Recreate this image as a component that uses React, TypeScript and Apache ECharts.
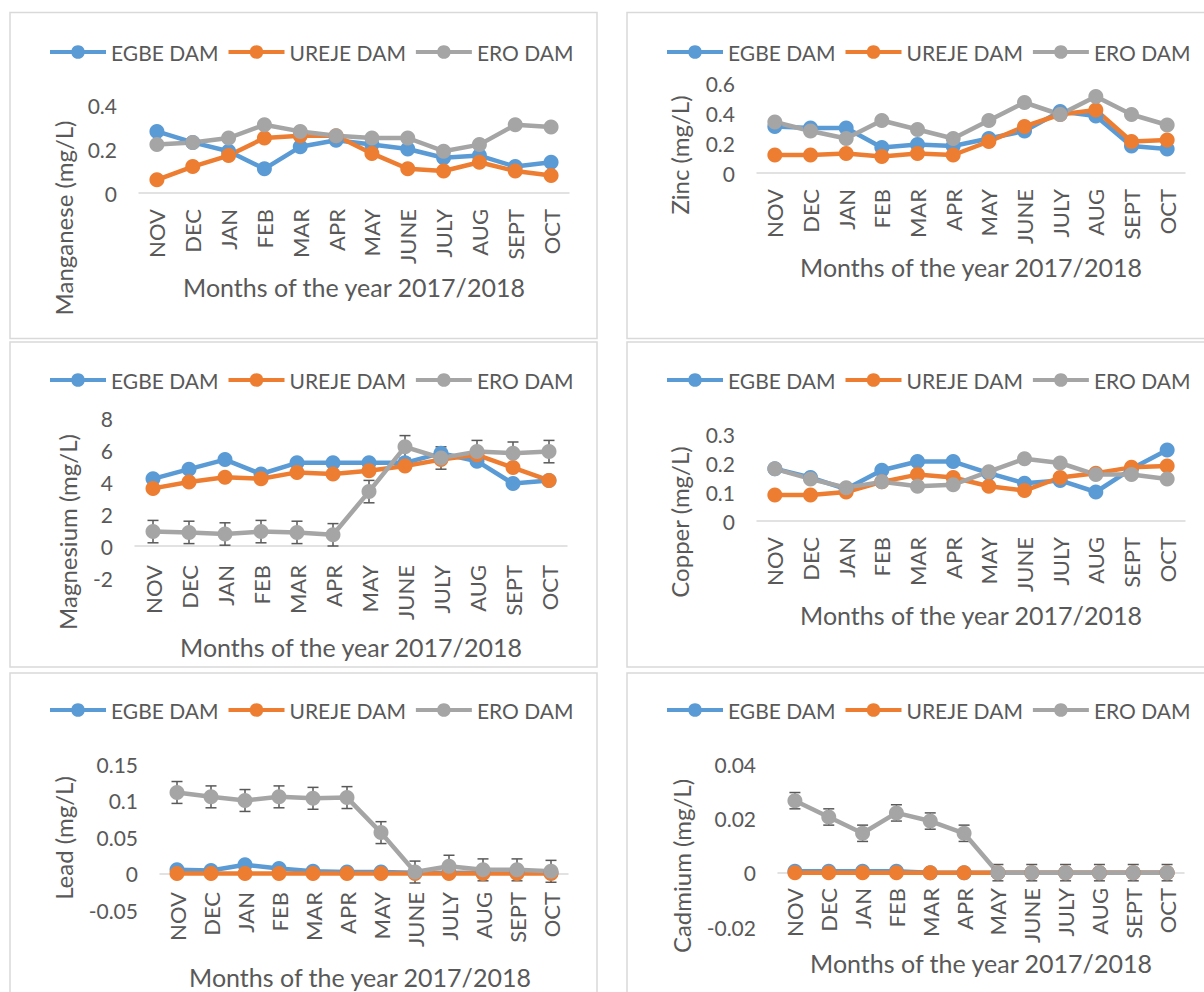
import React, { useEffect, useRef } from "react";
import * as echarts from "echarts";

const months = ["NOV", "DEC", "JAN", "FEB", "MAR", "APR", "MAY", "JUNE", "JULY", "AUG", "SEPT", "OCT"];
const damNames = ["EGBE DAM", "UREJE DAM", "ERO DAM"];
const damColors = ["#5B9BD5", "#ED7D31", "#A5A5A5"];
const xTitle = "Months of the year 2017/2018";

// Manganese (mg/L)
const mnEgbe = [0.28, 0.23, 0.19, 0.11, 0.21, 0.24, 0.22, 0.2, 0.16, 0.17, 0.12, 0.14];
const mnUreje = [0.06, 0.12, 0.17, 0.25, 0.26, 0.26, 0.18, 0.11, 0.1, 0.14, 0.1, 0.08];
const mnEro = [0.22, 0.23, 0.25, 0.31, 0.28, 0.26, 0.25, 0.25, 0.19, 0.22, 0.31, 0.3];

// Zinc (mg/L)
const znEgbe = [0.31, 0.3, 0.3, 0.17, 0.19, 0.18, 0.23, 0.28, 0.41, 0.38, 0.18, 0.16];
const znUreje = [0.12, 0.12, 0.13, 0.11, 0.13, 0.12, 0.21, 0.31, 0.39, 0.42, 0.21, 0.22];
const znEro = [0.34, 0.28, 0.23, 0.35, 0.29, 0.23, 0.35, 0.47, 0.39, 0.51, 0.39, 0.32];

// Magnesium (mg/L)
const mgEgbe = [4.2, 4.8, 5.4, 4.5, 5.2, 5.2, 5.2, 5.2, 5.8, 5.3, 3.9, 4.1];
const mgUreje = [3.6, 4.0, 4.3, 4.2, 4.6, 4.5, 4.7, 5.0, 5.4, 5.7, 4.9, 4.1];
const mgEro = [0.9, 0.85, 0.75, 0.9, 0.85, 0.7, 3.4, 6.2, 5.5, 5.9, 5.8, 5.9];
const mgEroErr = 0.7;

// Copper (mg/L)
const cuEgbe = [0.18, 0.15, 0.11, 0.175, 0.205, 0.205, 0.165, 0.13, 0.14, 0.1, 0.18, 0.245];
const cuUreje = [0.09, 0.09, 0.1, 0.135, 0.16, 0.15, 0.12, 0.105, 0.15, 0.165, 0.185, 0.19];
const cuEro = [0.18, 0.145, 0.115, 0.135, 0.12, 0.125, 0.17, 0.215, 0.2, 0.16, 0.16, 0.145];

// Lead (mg/L)
const pbEgbe = [0.005, 0.004, 0.012, 0.007, 0.003, 0.002, 0.002, 0.001, 0.001, 0.001, 0.001, 0.001];
const pbUreje = [0, 0, 0, 0, 0, 0, 0, 0, 0, 0, 0, 0];
const pbEro = [0.111, 0.105, 0.1, 0.105, 0.103, 0.104, 0.056, 0.002, 0.01, 0.005, 0.005, 0.003];
const pbEroErr = 0.015;

// Cadmium (mg/L)
const cdEgbe = [0.0005, 0.0005, 0.0005, 0.0005, 0, 0, 0, 0, 0, 0, 0, 0];
const cdUreje = [0, 0, 0, 0, 0, 0, 0, 0, 0, 0, 0, 0];
const cdEro = [0.0265, 0.0205, 0.0145, 0.022, 0.019, 0.0145, 0, 0, 0, 0, 0, 0];
const cdEroErr = 0.003;

const FONT = "Lato";
const TXT = "#595959";

type Panel = {
  yName: string;
  data: number[][];
  err: number | null;
  min: number;
  max: number;
  interval: number;
  grid: { left: number; top: number; width: number; height: number };
  labelMargin: number;
  legend: { left: number; y: number };
  yTitle: [number, number];
  xTitle: [number, number];
};

const panels: Panel[] = [
  {
    yName: "Manganese (mg/L)", data: [mnEgbe, mnUreje, mnEro], err: null,
    min: 0, max: 0.4, interval: 0.2,
    grid: { left: 139, top: 105, width: 430, height: 88 }, labelMargin: 16,
    legend: { left: 48, y: 52 }, yTitle: [63, 218], xTitle: [354, 287],
  },
  {
    yName: "Zinc (mg/L)", data: [znEgbe, znUreje, znEro], err: null,
    min: 0, max: 0.6, interval: 0.2,
    grid: { left: 757, top: 83, width: 428, height: 90 }, labelMargin: 16,
    legend: { left: 665, y: 52 }, yTitle: [679, 155], xTitle: [971, 267],
  },
  {
    yName: "Magnesium (mg/L)", data: [mgEgbe, mgUreje, mgEro], err: mgEroErr,
    min: -2, max: 8, interval: 2,
    grid: { left: 135, top: 418, width: 432, height: 160 }, labelMargin: -13,
    legend: { left: 48, y: 380 }, yTitle: [67, 532], xTitle: [351, 647],
  },
  {
    yName: "Copper (mg/L)", data: [cuEgbe, cuUreje, cuEro], err: null,
    min: 0, max: 0.3, interval: 0.1,
    grid: { left: 757, top: 434, width: 428, height: 87 }, labelMargin: 16,
    legend: { left: 665, y: 380 }, yTitle: [679, 522], xTitle: [971, 615],
  },
  {
    yName: "Lead (mg/L)", data: [pbEgbe, pbUreje, pbEro], err: pbEroErr,
    min: -0.05, max: 0.15, interval: 0.05,
    grid: { left: 160, top: 764, width: 408, height: 146 }, labelMargin: -18,
    legend: { left: 48, y: 710 }, yTitle: [63, 838], xTitle: [360, 977],
  },
  {
    yName: "Cadmium (mg/L)", data: [cdEgbe, cdUreje, cdEro], err: cdEroErr,
    min: -0.02, max: 0.04, interval: 0.02,
    grid: { left: 778, top: 764, width: 406, height: 163 }, labelMargin: -39,
    legend: { left: 665, y: 710 }, yTitle: [681, 866], xTitle: [981, 963],
  },
];

const borders = [
  { x: 10, y: 12.5, w: 587, h: 326 },
  { x: 627, y: 12.5, w: 600, h: 326 },
  { x: 10, y: 342, w: 587, h: 325 },
  { x: 627, y: 342, w: 600, h: 325 },
  { x: 10, y: 673, w: 587, h: 400 },
  { x: 627, y: 673, w: 600, h: 400 },
];

function buildOption() {
  const grid: any[] = [];
  const xAxis: any[] = [];
  const yAxis: any[] = [];
  const legend: any[] = [];
  const series: any[] = [];
  const graphic: any[] = [];

  borders.forEach((b) => {
    graphic.push({
      type: "rect", silent: true, z: -10,
      shape: { x: b.x, y: b.y, width: b.w, height: b.h },
      style: { fill: "none", stroke: "#D9D9D9", lineWidth: 1.5 },
    });
  });

  panels.forEach((p, i) => {
    grid.push({ ...p.grid, containLabel: false });
    xAxis.push({
      type: "category", gridIndex: i, data: months, boundaryGap: true,
      axisLine: { onZero: true, lineStyle: { color: "#D9D9D9", width: 1.5 } },
      axisTick: { show: false },
      axisLabel: { rotate: 90, margin: p.labelMargin, color: TXT, fontSize: 22, fontFamily: FONT, interval: 0 },
      splitLine: { show: false },
    });
    yAxis.push({
      type: "value", gridIndex: i, min: p.min, max: p.max, interval: p.interval,
      axisLine: { show: false }, axisTick: { show: false }, splitLine: { show: false },
      axisLabel: { margin: 22, color: TXT, fontSize: 21, fontFamily: FONT },
    });
    legend.push({
      left: p.legend.left, top: p.legend.y - 10.5, orient: "horizontal", padding: 0,
      itemWidth: 56, itemHeight: 17, itemGap: 8,
      lineStyle: { width: 4 },
      textStyle: { fontSize: 21, color: TXT, fontFamily: FONT },
      data: damNames, selectedMode: false,
    });
    p.data.forEach((vals, k) => {
      if (k === 2 && p.err !== null) {
        const e = p.err;
        series.push({
          type: "custom", xAxisIndex: i, yAxisIndex: i, silent: true,
          data: vals.map((v, j) => [j, v - e, v + e]),
          renderItem: (params: any, api: any) => {
            const x = api.value(0);
            const lo = api.coord([x, api.value(1)]);
            const hi = api.coord([x, api.value(2)]);
            const w = 5.5;
            const style = { stroke: "#595959", lineWidth: 1.5 };
            return {
              type: "group",
              children: [
                { type: "line", shape: { x1: lo[0], y1: lo[1], x2: hi[0], y2: hi[1] }, style },
                { type: "line", shape: { x1: lo[0] - w, y1: lo[1], x2: lo[0] + w, y2: lo[1] }, style },
                { type: "line", shape: { x1: hi[0] - w, y1: hi[1], x2: hi[0] + w, y2: hi[1] }, style },
              ],
            };
          },
        });
      }
      series.push({
        type: "line", name: damNames[k], xAxisIndex: i, yAxisIndex: i,
        data: vals, symbol: "circle", symbolSize: 15, showSymbol: true,
        color: damColors[k],
        lineStyle: { width: 4.5, color: damColors[k] },
        itemStyle: { color: damColors[k] },
        emphasis: { disabled: true },
      });
    });
    graphic.push({
      type: "text", x: p.yTitle[0], y: p.yTitle[1], rotation: Math.PI / 2, silent: true,
      style: { text: p.yName, fill: TXT, fontSize: 24, fontFamily: FONT, align: "center", verticalAlign: "middle" },
    });
    graphic.push({
      type: "text", x: p.xTitle[0], y: p.xTitle[1], silent: true,
      style: { text: xTitle, fill: TXT, fontSize: 25, fontFamily: FONT, align: "center", verticalAlign: "middle" },
    });
  });

  return {
    animation: false,
    backgroundColor: "#FFFFFF",
    grid, xAxis, yAxis, legend, series, graphic,
  };
}

export default function App() {
  const ref = useRef<HTMLDivElement>(null);
  useEffect(() => {
    if (!ref.current) return;
    const chart = echarts.init(ref.current, undefined, { renderer: "svg" });
    chart.setOption(buildOption() as any);
    return () => chart.dispose();
  }, []);
  return (
    <div
      ref={ref}
      style={{ position: "fixed", left: 0, top: 0, width: 1204, height: 992, background: "#fff" }}
    />
  );
}
